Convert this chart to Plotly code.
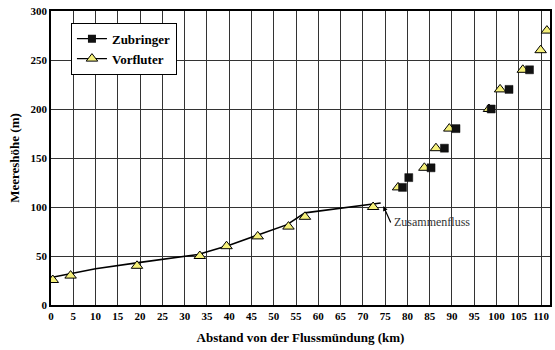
import plotly.graph_objects as go

# Main river profile line (smoothed line)
line_km = [0, 10, 20, 33, 40, 46, 53, 57, 74]
line_h = [28, 37, 43.5, 51.5, 61, 70.5, 82, 94, 104]

# Vorfluter (triangles)
vorf_km = [0.4, 4.4, 19.3, 33.4, 39.4, 46.4, 53.3, 57.0, 72.3, 77.9, 83.8, 86.4, 89.4, 98.3, 100.8, 105.9, 109.9, 111.3]
vorf_h = [25.5, 30, 40, 50, 60, 70, 80, 90, 100, 120, 140, 160, 180, 200, 220, 240, 260, 280]

# Zubringer (squares)
zub_km = [78.9, 80.3, 85.3, 88.3, 90.9, 98.8, 102.8, 107.4]
zub_h = [120, 130, 140, 160, 180, 200, 220, 240]

x_ticks = list(range(0, 111, 5))
y_ticks = list(range(0, 301, 50))

FONT = "Liberation Serif"
tri_fill = "#f5f07a"

fig = go.Figure()
fig.add_trace(go.Scatter(x=line_km, y=line_h, mode="lines",
                         line=dict(color="black", width=1.6),
                         showlegend=False, hoverinfo="skip"))
fig.add_trace(go.Scatter(x=vorf_km, y=vorf_h, mode="markers",
                         marker=dict(symbol="triangle-up", size=10, color=tri_fill,
                                     line=dict(color="black", width=1)),
                         showlegend=False))
fig.add_trace(go.Scatter(x=zub_km, y=zub_h, mode="markers",
                         marker=dict(symbol="square", size=8, color="#111111",
                                     line=dict(color="#111111", width=0.5)),
                         showlegend=False))
# legend entries
fig.add_trace(go.Scatter(x=[None], y=[None], mode="lines+markers", name="<b>Zubringer</b>",
                         line=dict(color="black", width=1.2),
                         marker=dict(symbol="square", size=8, color="#111111")))
fig.add_trace(go.Scatter(x=[None], y=[None], mode="lines+markers", name="<b>Vorfluter</b>",
                         line=dict(color="black", width=1.2),
                         marker=dict(symbol="triangle-up", size=10, color=tri_fill,
                                     line=dict(color="black", width=1))))

fig.add_annotation(x=74.6, y=101, xref="x", yref="y",
                   ax=8, ay=18, showarrow=True, arrowhead=2, arrowsize=0.8,
                   arrowwidth=1.2, arrowcolor="black", text="")
fig.add_annotation(x=76.5, y=85, xref="x", yref="y", text="Zusammenfluss",
                   showarrow=False, xanchor="left", yanchor="middle",
                   font=dict(family=FONT, size=12, color="#333333"))

fig.update_layout(
    width=555, height=350,
    margin=dict(l=51, r=3, t=11, b=45),
    paper_bgcolor="white", plot_bgcolor="white",
    font=dict(family=FONT, color="black"),
    legend=dict(x=0.04, y=0.96, xanchor="left", yanchor="top",
                bgcolor="white", bordercolor="black", borderwidth=1,
                font=dict(family=FONT, size=13, color="black"),
                itemwidth=30, tracegroupgap=6),
    xaxis=dict(range=[0, 112], tickmode="array",
               tickvals=x_ticks, ticktext=["<b>%d</b>" % v for v in x_ticks],
               showgrid=True, gridcolor="#333333", gridwidth=1,
               showline=True, linecolor="black", linewidth=1.5, mirror=True,
               ticks="", zeroline=False,
               tickfont=dict(family=FONT, size=11),
               title=dict(text="<b>Abstand von der Flussmündung (km)</b>", standoff=12,
                          font=dict(family=FONT, size=13))),
    yaxis=dict(range=[0, 300], tickmode="array", tickvals=y_ticks,
               ticktext=["<b>%d</b>" % v for v in y_ticks],
               showgrid=True, gridcolor="#333333", gridwidth=1,
               showline=True, linecolor="black", linewidth=1.5, mirror=True,
               ticks="", zeroline=False,
               tickfont=dict(family=FONT, size=11),
               title=dict(text="<b>Meereshöhe (m)</b>", standoff=8,
                          font=dict(family=FONT, size=13))),
)

fig.write_html("out.html", config={"displayModeBar": False},
               post_script="document.body.style.margin='0';")
